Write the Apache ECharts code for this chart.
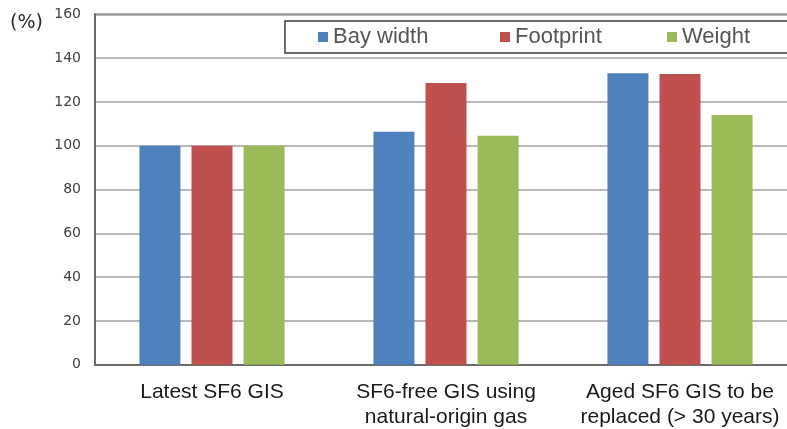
<!DOCTYPE html>
<html>
<head>
<meta charset="utf-8">
<script src="https://cdn.jsdelivr.net/npm/echarts@6/dist/echarts.min.js"></script>
<style>html,body{margin:0;padding:0;background:#fff}#c{width:787px;height:429px}</style>
</head>
<body>
<div id="c"></div>
<script>
const categories = ['Latest SF6 GIS', 'SF6-free GIS using\nnatural-origin gas', 'Aged SF6 GIS to be\nreplaced (> 30 years)'];
const seriesNames = ['Bay width', 'Footprint', 'Weight'];
const bayWidth = [100, 106.4, 133.1];
const footprint = [100, 128.6, 132.7];
const weight = [100, 104.6, 114.0];
const yTicks = [0, 20, 40, 60, 80, 100, 120, 140, 160];

const colors = ['#4f81bd', '#c0504d', '#9bbb59'];
const values = [bayWidth, footprint, weight];
const legendLefts = [318, 500, 667];

const chart = echarts.init(document.getElementById('c'), null, {renderer: 'canvas'});
chart.setOption({
  animation: false,
  backgroundColor: '#fff',
  title: {
    text: '(%)', left: 5, top: 9,
    textStyle: {fontFamily: 'DejaVu Sans', fontSize: 19, fontWeight: 'normal', color: '#2a2a2a'}
  },
  graphic: [{
    type: 'rect', z: 5,
    shape: {x: 285, y: 21, width: 520, height: 32},
    style: {fill: '#fff', stroke: '#3a3a3a', lineWidth: 1.5}
  }],
  legend: seriesNames.map((n, i) => ({
    data: [n], left: legendLefts[i], top: 26, padding: 0, z: 10,
    icon: 'rect', itemWidth: 10, itemHeight: 10,
    textStyle: {fontFamily: 'Liberation Sans', fontSize: 22, color: '#555'}
  })),
  grid: {
    left: 95, width: 702, top: 14.3, bottom: 64.3,
    containLabel: false, outerBoundsMode: 'none',
    show: true, borderColor: '#6a6a6a', borderWidth: 1.5
  },
  xAxis: {
    type: 'category', data: categories,
    axisLine: {lineStyle: {color: '#6a6a6a', width: 2}},
    axisTick: {show: false},
    axisLabel: {interval: 0, margin: 15, fontFamily: 'Liberation Sans', fontSize: 21, lineHeight: 25, color: '#1a1a1a'}
  },
  yAxis: {
    type: 'value', min: yTicks[0], max: yTicks[yTicks.length - 1], interval: yTicks[1] - yTicks[0],
    axisLine: {show: true, lineStyle: {color: '#6a6a6a', width: 2}},
    axisTick: {show: false},
    splitLine: {lineStyle: {color: '#a0a0a0', width: 1.5}},
    axisLabel: {margin: 14, fontFamily: 'DejaVu Sans', fontSize: 14, color: '#404040'}
  },
  series: seriesNames.map((n, i) => ({
    name: n, type: 'bar', data: values[i],
    barWidth: 41, barGap: '27%',
    itemStyle: {color: colors[i]}
  }))
});
</script>
</body>
</html>
